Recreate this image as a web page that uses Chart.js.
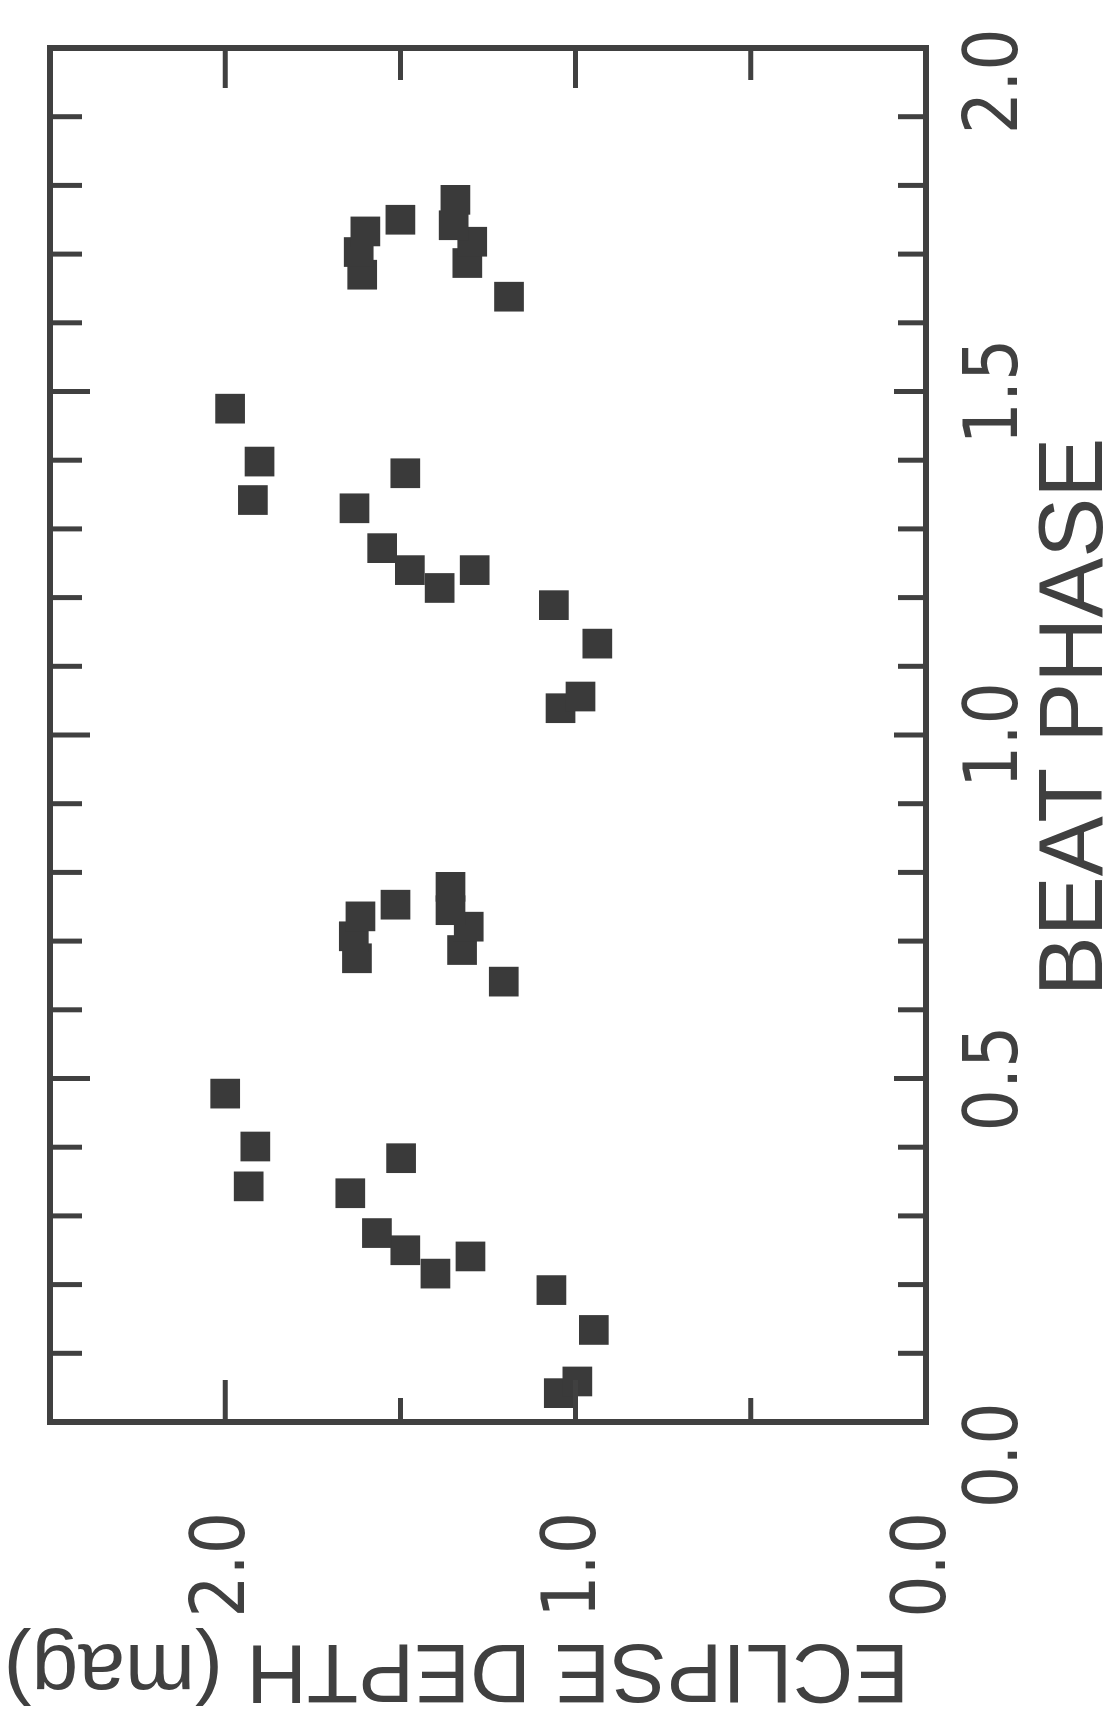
<!DOCTYPE html>
<html>
<head>
<meta charset="utf-8">
<title>Eclipse depth vs beat phase</title>
<script src="https://cdn.jsdelivr.net/npm/chart.js@4.4.1/dist/chart.umd.min.js"></script>
<style>
  html, body { margin: 0; padding: 0; background: #fff; }
  #page { position: relative; width: 1117px; height: 1726px; overflow: hidden; background: #fff; }
  /* the figure is laid out landscape and turned a quarter turn */
  #turned {
    position: absolute; left: 0; top: 0;
    width: 1726px; height: 1117px;
    transform-origin: 0 0;
    transform: translateY(1726px) rotate(-90deg);
  }
</style>
</head>
<body>
<div id="page">
  <div id="turned"><canvas id="depthChart" width="1726" height="1117"></canvas></div>
</div>
<script>
// beat phase / eclipse depth (mag), first cycle
var phase1 = [0.042, 0.059, 0.134, 0.192, 0.216, 0.241, 0.250, 0.275, 0.333, 0.343, 0.384,
  0.401, 0.478, 0.641, 0.675, 0.687, 0.707, 0.721, 0.736, 0.745, 0.753, 0.779];
var depth1 = [1.048, 0.995, 0.948, 1.069, 1.400, 1.300, 1.486, 1.567, 1.643, 1.933, 1.498,
  1.914, 2.000, 1.205, 1.624, 1.324, 1.633, 1.305, 1.614, 1.357, 1.514, 1.357];

// second cycle
var phase2 = [1.039, 1.056, 1.133, 1.189, 1.214, 1.240, 1.240, 1.272, 1.330, 1.342, 1.381,
  1.398, 1.475, 1.638, 1.670, 1.687, 1.703, 1.718, 1.733, 1.742, 1.750, 1.779];
var depth2 = [1.043, 0.986, 0.938, 1.062, 1.388, 1.288, 1.473, 1.552, 1.631, 1.921, 1.486,
  1.902, 1.986, 1.190, 1.609, 1.309, 1.619, 1.295, 1.600, 1.348, 1.500, 1.343];

var phaseLabels = ["0.0", "0.5", "1.0", "1.5", "2.0"];
var depthLabels = ["0.0", "1.0", "2.0"];

var ink = "#404040";
var fontFamily = "'Liberation Sans', Arial, Helvetica, sans-serif";
var narrowFamily = "'Liberation Sans Narrow', 'DejaVu Sans Condensed', 'Liberation Sans', sans-serif";

function toPoints(xs, ys) {
  return xs.map(function (x, i) { return { x: x, y: ys[i] }; });
}

// frame with inward ticks on all four sides
var frameTicks = {
  id: "frameTicks",
  afterDatasetsDraw: function (chart) {
    var a = chart.chartArea, ctx = chart.ctx;
    var xs = chart.scales.x, ys = chart.scales.y;
    ctx.save();
    ctx.strokeStyle = ink;
    ctx.lineCap = "butt";

    ctx.lineWidth = 5;
    ctx.beginPath();
    // phase ticks every 0.1 along top and bottom
    for (var i = 1; i < 20; i++) {
      var px = xs.getPixelForValue(i / 10);
      var major = i % 5 === 0;
      ctx.moveTo(px, a.top);
      ctx.lineTo(px, a.top + (major ? 40 : 32));
      ctx.moveTo(px, a.bottom);
      ctx.lineTo(px, a.bottom - (major ? 32 : 28));
    }
    // depth ticks every 0.5 along left and right
    for (var j = 1; j < 5; j++) {
      var py = ys.getPixelForValue(j / 2);
      var big = j % 2 === 0;
      ctx.moveTo(a.left, py);
      ctx.lineTo(a.left + (big ? 42 : 24), py);
      ctx.moveTo(a.right, py);
      ctx.lineTo(a.right - (big ? 40 : 32), py);
    }
    ctx.stroke();

    ctx.lineWidth = 6;
    ctx.strokeRect(a.left, a.top, a.right - a.left, a.bottom - a.top);
    ctx.restore();
  }
};

var pointStyle = {
  pointStyle: "rect",
  pointRadius: 21,
  pointHoverRadius: 21,
  backgroundColor: "#3a3a3a",
  borderColor: "#3a3a3a",
  borderWidth: 0,
  showLine: false
};

var ctx = document.getElementById("depthChart");
var depthChart = new Chart(ctx, {
  type: "scatter",
  data: {
    datasets: [
      Object.assign({ label: "cycle 1", data: toPoints(phase1, depth1) }, pointStyle),
      Object.assign({ label: "cycle 2", data: toPoints(phase2, depth2) }, pointStyle)
    ]
  },
  options: {
    responsive: false,
    animation: false,
    layout: { padding: { top: 50, right: 48, left: 0, bottom: 0 } },
    plugins: { legend: { display: false }, tooltip: { enabled: false } },
    scales: {
      x: {
        type: "linear",
        position: "bottom",
        min: 0,
        max: 2,
        grid: { display: false, drawTicks: false },
        border: { display: false },
        afterFit: function (s) {
          s.height = 191;
          s.paddingLeft = 0;
          s.paddingRight = 0;
        },
        ticks: {
          stepSize: 0.5,
          padding: 27,
          color: ink,
          maxRotation: 0,
          font: { family: narrowFamily, size: 74 },
          callback: function (v) {
            var k = Math.round(v * 2);
            // end labels sit a little inside the frame corners
            return (k === 0 || k === phaseLabels.length - 1) ? phaseLabels[k] + "\u2003" : phaseLabels[k];
          }
        },
        title: {
          display: true,
          text: "\u2009\u2009BEAT PHASE",
          color: ink,
          padding: 0,
          font: { family: fontFamily, size: 90, lineHeight: 0.88 }
        }
      },
      y: {
        type: "linear",
        position: "left",
        min: 0,
        max: 2.5,
        grid: { display: false, drawTicks: false },
        border: { display: false },
        afterFit: function (s) {
          s.width = 304;
          s.paddingTop = 0;
          s.paddingBottom = 0;
        },
        ticks: {
          stepSize: 1,
          includeBounds: false,
          padding: 90,
          color: ink,
          font: { family: narrowFamily, size: 74 },
          callback: function (v) { return depthLabels[Math.round(v)]; }
        },
        title: {
          display: true,
          text: "\u2009ECLIPSE DEPTH (mag)",
          align: "start",
          color: ink,
          padding: { top: 16, bottom: 0 },
          font: { family: fontFamily, size: 84, lineHeight: 1 }
        }
      }
    }
  },
  plugins: [frameTicks]
});
</script>
</body>
</html>
